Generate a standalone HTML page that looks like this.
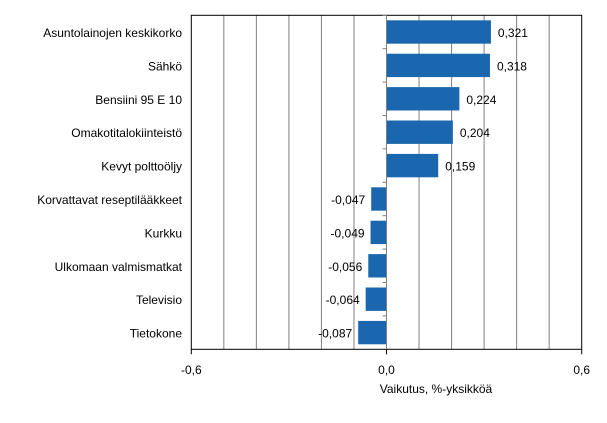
<!DOCTYPE html>
<html><head><meta charset="utf-8"><style>
body{margin:0;background:#fff;}
svg text{font-family:"Liberation Sans",Arial,sans-serif;font-size:12px;fill:#000;}
</style></head><body>
<svg width="607" height="418" id="chart">
</svg>
<script>
const categories=["Asuntolainojen keskikorko","Sähkö","Bensiini 95 E 10","Omakotitalokiinteistö","Kevyt polttoöljy","Korvattavat reseptilääkkeet","Kurkku","Ulkomaan valmismatkat","Televisio","Tietokone"];
const values=[0.321,0.318,0.224,0.204,0.159,-0.047,-0.049,-0.056,-0.064,-0.087];
const valueLabels=["0,321","0,318","0,224","0,204","0,159","-0,047","-0,049","-0,056","-0,064","-0,087"];
const tickValues=[-0.6,0,0.6];
const tickLabels=["-0,6","0,0","0,6"];
const gridValues=[-0.5,-0.4,-0.3,-0.2,-0.1,0.1,0.2,0.3,0.4,0.5];
const svg=document.getElementById('chart');
const NS='http://www.w3.org/2000/svg';
const L=191.3,R=581.7,T=15.3,B=349.3;
const x=v=>L+(v+0.6)/1.2*(R-L);
const band=(B-T)/categories.length;
function mk(t,a,p){const e=document.createElementNS(NS,t);for(const k in a)e.setAttribute(k,a[k]);(p||svg).appendChild(e);return e;}
gridValues.forEach(v=>{const g=mk('line',{x1:x(v),x2:x(v),y1:T,y2:B,stroke:'#808080','stroke-width':1});

});
const frame=mk('rect',{x:L,y:T,width:R-L,height:B-T,fill:'none',stroke:'#000','stroke-width':1});


categories.forEach((c,i)=>{
 const y0=T+i*band, yc=y0+band/2, h=band*0.7;
 const v=values[i];
 const b=mk('rect',{x:Math.min(x(0),x(v)),y:yc-h/2,width:Math.abs(x(v)-x(0)),height:h,fill:'#1a67b0'});
 
 
 const lab=mk('text',{x:v>=0?x(v)+7:x(v)-6,y:yc+5,'text-anchor':v>=0?'start':'end'});
 lab.textContent=valueLabels[i];
 
 
 const cl=mk('text',{x:182,y:yc+5,'text-anchor':'end'});
 cl.textContent=c;
 
 
 const tk=mk('line',{x1:x(0)-4,x2:x(0),y1:y0,y2:y0,stroke:'#808080'});
 
 
});
const za=mk('line',{x1:x(0),x2:x(0),y1:T,y2:B+5,stroke:'#808080','stroke-width':1});


tickValues.forEach((v,i)=>{
 const t=mk('line',{x1:x(v),x2:x(v),y1:B,y2:B+5,stroke:'#000'});
 
 
 const tl=mk('text',{x:x(v),y:374,'text-anchor':'middle'});
 tl.textContent=tickLabels[i];
 
 
});
const xt=mk('text',{x:436,y:393,'text-anchor':'middle'});
xt.textContent='Vaikutus, %-yksikköä';


</script>
</body></html>
